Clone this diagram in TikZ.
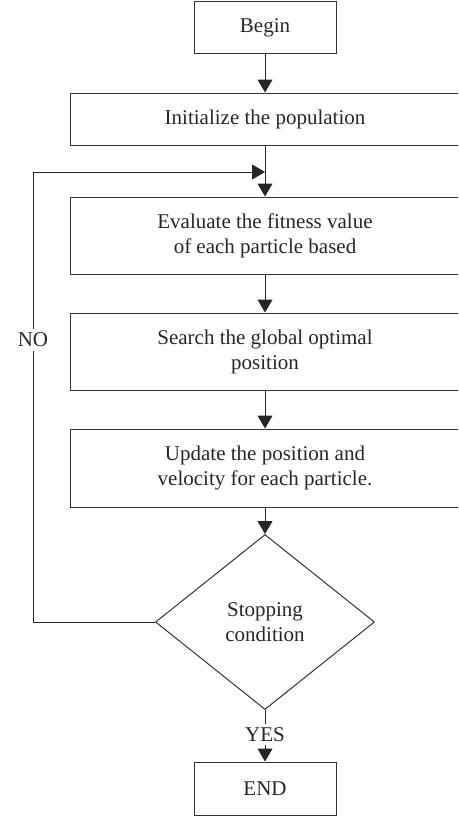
\documentclass[tikz,border=0pt]{standalone}
\usepackage{fontspec}
\setmainfont{Liberation Serif}
\usetikzlibrary{shapes.geometric,arrows.meta}
\begin{document}
\begin{tikzpicture}[x=1pt,y=-1pt,
  every node/.style={font=\fontsize{21}{25}\selectfont, text=black!85},
  box/.style={draw=black!80, line width=1pt, rectangle, inner sep=0pt, align=center},
  wide/.style={box, minimum width=390pt},
  dec/.style={draw=black!80, line width=1pt, diamond, inner sep=0pt, align=center, minimum width=219pt, minimum height=175pt},
  conn/.style={draw=black!85, line width=1pt},
  arr/.style={conn, -{Triangle[width=15pt,length=13pt]}},
  lbl/.style={fill=white, inner xsep=1pt, inner ysep=3.5pt}]
\useasboundingbox (0,0) rectangle (458,816);
\clip (0,0) rectangle (458,816);
\node[box, minimum width=142pt, minimum height=52pt] (begin) at (265,28) {Begin};
\node[wide, minimum height=52pt] (init) at (265,119) {Initialize the population};
\node[wide, minimum height=77pt] (eval) at (265,235.5) {Evaluate the fitness value\\of each particle based};
\node[wide, minimum height=77pt] (search) at (265,351.5) {Search the global optimal\\position};
\node[wide, minimum height=78pt] (update) at (265,468) {Update the position and\\velocity for each particle.};
\node[dec] (cond) at (265,622) {Stopping\\condition};
\node[box, minimum width=142pt, minimum height=53pt] (end) at (265,788.5) {END};
\node[lbl] (yes) at (265,734.5) {YES};
\coordinate (bl) at (33,622);
\coordinate (tl) at (33,172);
\coordinate (j) at (265,172);
\draw[arr] (begin.south) -- (init.north);
\draw[arr] (init.south) -- (eval.north);
\draw[arr] (eval.south) -- (search.north);
\draw[arr] (search.south) -- (update.north);
\draw[arr] (update.south) -- (cond.north);
\draw[conn] (cond.south) -- (yes.north);
\draw[arr] (yes.south) -- (end.north);
\draw[arr] (cond.west) -- (bl) -- (tl) -- (j);
\node[lbl] (no) at (33,340) {NO};
\end{tikzpicture}
\end{document}
